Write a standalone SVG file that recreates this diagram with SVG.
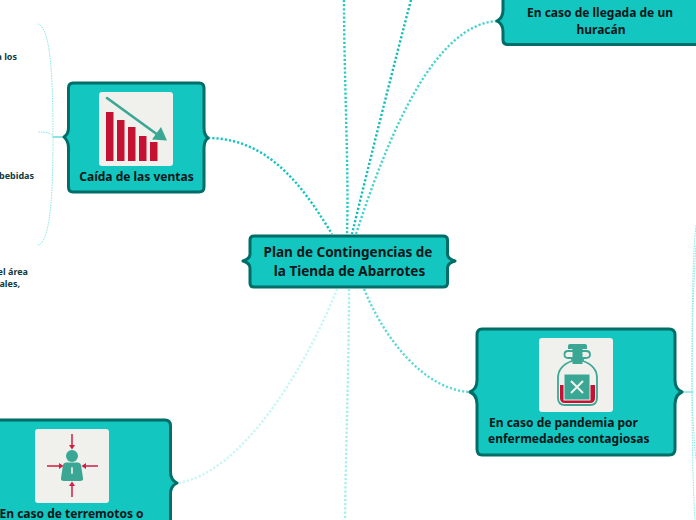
<svg xmlns="http://www.w3.org/2000/svg" width="696" height="520" viewBox="0 0 696 520">
<style>
text{font-family:"Noto Sans","Liberation Sans",sans-serif;font-weight:700}
.t{font-size:12px;fill:#07161a}
.c{font-size:13.5px;text-anchor:middle}
.s{font-size:9px;fill:#0e3b42;text-anchor:end}
.box{fill:#13c6c0;stroke:#006d68;stroke-width:3;stroke-linejoin:round}
.card{fill:#f0f0ec}
.g{fill:#3aa795}
.r{fill:#c51233}
.ln{fill:none;stroke-width:2.4;stroke-dasharray:2.2 2;stroke-linecap:butt}
.thin{fill:none;stroke:#8ce8e4;stroke-width:1;stroke-dasharray:1.5 1}
.arr{stroke:#d11f45;stroke-width:1.5;fill:none}
.arh{fill:#d11f45}
</style>
<g id="connectors">
<path class="ln" stroke="#12c5bf" d="M208 138C270 138 305 190 332 234"/>
<path class="ln" stroke="#28cbc6" d="M344 0C344 80 349 170 347 234"/>
<path class="ln" stroke="#12bcb7" d="M411 0C395 60 370 160 352 234"/>
<path class="ln" stroke="#48d3ce" d="M497 21C435 25 390 130 356 234"/>
<path class="ln" stroke="#5fd9d5" d="M364 289C385 340 425 390 470 392"/>
<path class="ln" stroke="#a4eeeb" d="M349 289C349 360 346 440 345 520"/>
<path class="ln" stroke="#c7f6f4" d="M337 289C305 370 240 475 177 483"/>
<path d="M53 137H64" fill="none" stroke="#8fe3df" stroke-width="2"/>
<path class="thin" d="M53 137C53 90 52 28 38 24"/>
<path class="thin" d="M53 137C53 133 46 132 38 132"/>
<path class="thin" d="M53 137C53 180 52 242 38 245"/>
<path d="M682 392H693" fill="none" stroke="#a4eeeb" stroke-width="2"/>
<path class="thin" d="M692 392C692 330 692 260 696 225"/>
<path class="thin" d="M692 392C692 340 693 290 696 245"/>
<path class="thin" d="M692 392C692 440 693 490 695 520"/>
<path class="thin" d="M692 392C693 420 694 440 696 460"/>
</g>
<g id="center">
<path class="box" d="M254 236H443Q447.500 236 447.500 240V254Q447.500 259 455 261Q447.500 263 447.500 268V283Q447.500 287 443 287H254Q250 287 250 283V268Q250 263 243 261Q250 259 250 254V240Q250 236 254 236Z"/>
<text class="c" x="348" y="257" fill="#07161a">Plan de Contingencias de</text>
<text class="c" x="349.500" y="276" fill="#07161a">la Tienda de Abarrotes</text>
</g>
<g id="caida">
<path class="box" d="M73 83H199Q204 83 204 88V128Q204 135 208 138Q204 141 204 148V187Q204 192 199 192H73Q68.500 192 68.500 187V148Q68.500 141 64 137Q68.500 134 68.500 128V88Q68.500 83 73 83Z"/>
<rect class="card" x="99" y="92" width="74" height="74" rx="3"/>
<rect class="r" x="106" y="112" width="7.500" height="49"/>
<rect class="r" x="117" y="120" width="7.500" height="41"/>
<rect class="r" x="128" y="127" width="7.500" height="34"/>
<rect class="r" x="139" y="136" width="7.500" height="25"/>
<rect class="r" x="150" y="142" width="7.500" height="19"/>
<path d="M107 98L158 135" stroke="#3aa795" stroke-width="2.600" stroke-linecap="round" fill="none"/>
<path class="g" d="M161 127L167 140.500L152 139.500Z"/>
<text x="136.500" y="181" class="t" text-anchor="middle">Caída de las ventas</text>
</g>
<g id="pandemia">
<path class="box" d="M482 329H669Q675 329 675 335V380Q675 389 682 392Q675 395 675 404V449Q675 455 669 455H482Q477 455 477 449V404Q477 395 470 392Q477 389 477 380V335Q477 329 482 329Z"/>
<rect class="card" x="539" y="338" width="74" height="74" rx="3"/>
<g>
<path class="g" d="M568 349V346Q568 344 570 344H585Q587 344 587 346V349Z"/>
<path d="M568 351H586Q590 351 590 354.500Q590 358 586 358H583V361Q597 366 597 378V398Q597 405 590 405H565Q558 405 558 398V378Q558 366 572 361V358H568Q564.500 358 564.500 354.500Q564.500 351 568 351Z" fill="#f0f0ec" stroke="#3aa795" stroke-width="1.800"/>
<path class="r" d="M560 385H595V398Q595 403 590 403H565Q560 403 560 398Z"/>
<rect class="g" x="572.500" y="349" width="10" height="15"/>
<rect class="g" x="564" y="374" width="26" height="26" stroke="#f0f0ec" stroke-width="1"/>
<path d="M571 381L583 393M583 381L571 393" stroke="#f0f0ec" stroke-width="2" fill="none"/>
</g>
<text x="489" y="427" class="t">En caso de pandemia por</text>
<text x="488" y="443" class="t">enfermedades contagiosas</text>
</g>
<g id="huracan">
<path class="box" d="M503 -10V10Q503 18 497 21Q503 24 503 32V40Q503 44.500 508 44.500H700V-10Z"/>
<text x="600" y="17" class="t" text-anchor="middle">En caso de llegada de un</text>
<text x="601" y="34" class="t" text-anchor="middle">huracán</text>
</g>
<g id="terremotos">
<path class="box" d="M-10 420H165Q170.500 420 170.500 426V472Q170.500 480 177 483Q170.500 486 170.500 494V530H-10Z"/>
<rect class="card" x="35" y="429" width="74" height="74" rx="3"/>
<circle class="g" cx="72" cy="456" r="6"/>
<path class="g" d="M66 462.500H78Q80.500 462.500 81 465L83 478Q83.500 481 80 481H64Q60.500 481 61 478L63 465Q63.500 462.500 66 462.500Z"/>
<rect class="card" x="71.200" y="467" width="1.600" height="7" rx="0.800"/>
<path class="arr" d="M72 434V446M72 497V485M47 466H60M98 466H85"/>
<path class="arh" d="M69 445H75L72 449.500ZM69 486H75L72 481.500ZM59 463V469L63.500 466ZM86 463V469L81.500 466Z"/>
<text x="-0.500" y="518" class="t">En caso de terremotos o</text>
</g>
<g id="textos">
<text x="17" y="60" class="s">a los</text>
<text x="34" y="179" class="s">bebidas</text>
<text x="28" y="275" class="s">el área</text>
<text x="20" y="287" class="s">ales,</text>
</g>
</svg>
